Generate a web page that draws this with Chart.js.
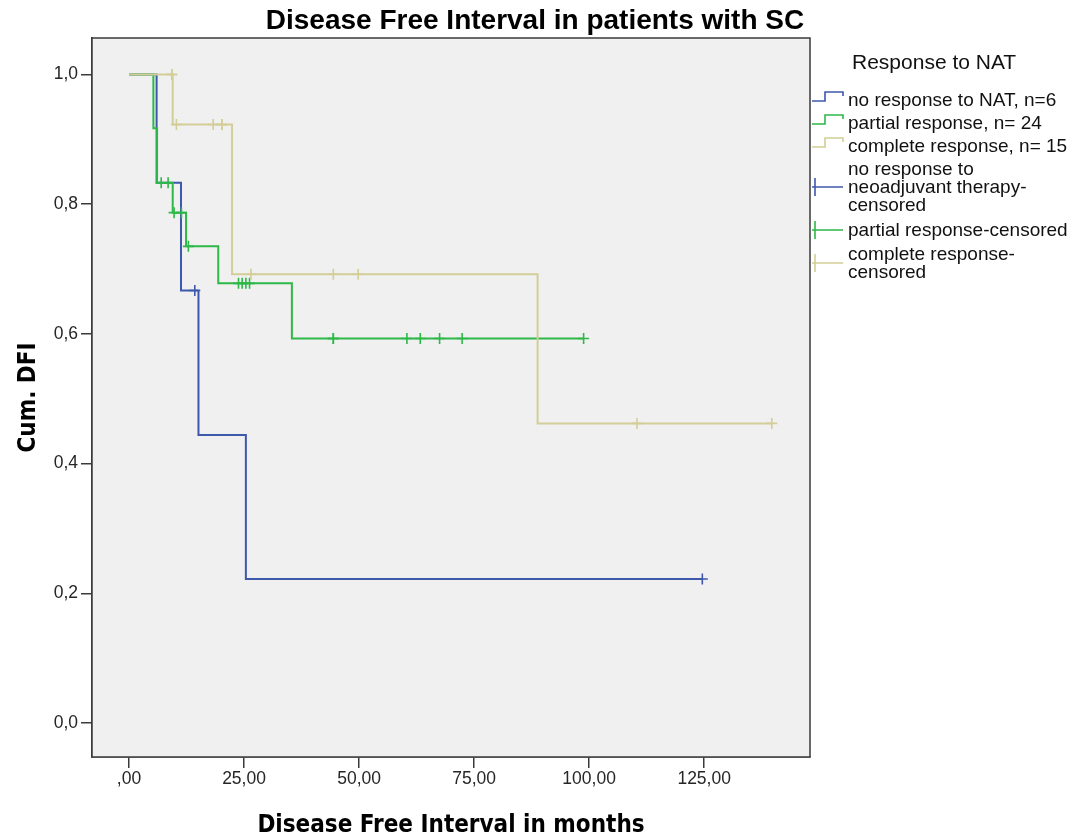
<!DOCTYPE html>
<html>
<head>
<meta charset="utf-8">
<script src="https://cdn.jsdelivr.net/npm/chart.js@4.4.1/dist/chart.umd.min.js"></script>
<style>
  html, body { margin: 0; padding: 0; background: #ffffff; }
  #wrap { width: 1077px; height: 838px; position: relative; }
  canvas { display: block; }
</style>
</head>
<body>
<div id="wrap"><canvas id="c" width="1077" height="838"></canvas></div>
<script>
// ---------------- data ----------------
// x tick values / labels (months) and y tick values / labels (Cum. DFI)
const xTickValues = [0, 25, 50, 75, 100, 125];
const xTickLabels = [',00', '25,00', '50,00', '75,00', '100,00', '125,00'];
const yTickValues = [0, 0.2, 0.4, 0.6, 0.8, 1.0];
const yTickLabels = ['0,0', '0,2', '0,4', '0,6', '0,8', '1,0'];

// no response to NAT, n=6
const noRespTimes = [0, 6.0, 11.3, 15.1, 25.4, 124.6];
const noRespSurv  = [1.0, 0.833, 0.667, 0.444, 0.222, 0.222];
const noRespCensTimes = [14.3, 124.6];
const noRespCensSurv  = [0.667, 0.222];

// partial response, n=24
const partialTimes = [0, 5.3, 6.1, 9.5, 12.4, 19.4, 35.4, 98.8];
const partialSurv  = [1.0, 0.917, 0.833, 0.787, 0.735, 0.678, 0.593, 0.593];
const partialCensTimes = [7.0, 8.5, 9.8, 11.4, 12.9, 23.8, 24.6, 25.4, 26.2, 44.4, 44.4, 60.4, 63.3, 67.5, 72.4, 98.8];
const partialCensSurv  = [0.833, 0.833, 0.787, 0.787, 0.735, 0.678, 0.678, 0.678, 0.678, 0.593, 0.593, 0.593, 0.593, 0.593, 0.593, 0.593];

// complete response, n=15
const completeTimes = [0, 9.5, 22.4, 88.8, 139.7];
const completeSurv  = [1.0, 0.923, 0.692, 0.462, 0.462];
const completeCensTimes = [9.3, 9.3, 10.3, 18.3, 20.2, 20.2, 26.5, 44.4, 49.8, 110.4, 139.7];
const completeCensSurv  = [1.0, 1.0, 0.923, 0.923, 0.923, 0.923, 0.692, 0.692, 0.692, 0.462, 0.462];

// legend texts
const legendTitle = 'Response to NAT';
const legendItems = [
  { lines: ['no response to NAT, n=6'], kind: 'step', color: 'blue' },
  { lines: ['partial response, n= 24'], kind: 'step', color: 'green' },
  { lines: ['complete response, n= 15'], kind: 'step', color: 'beige' },
  { lines: ['no response to', 'neoadjuvant therapy-', 'censored'], kind: 'cross', color: 'blue' },
  { lines: ['partial response-censored'], kind: 'cross', color: 'green' },
  { lines: ['complete response-', 'censored'], kind: 'cross', color: 'beige' }
];
const chartTitle = 'Disease Free Interval in patients with SC';
const xTitle = 'Disease Free Interval in months';
const yTitle = 'Cum. DFI';

// ---------------- styling ----------------
const COLORS = { blue: '#3E58AC', green: '#2EB848', beige: '#D3CE97' };
const FRAME = '#3a3a3a';
const FONT = "'Liberation Sans', Arial, sans-serif";
const BOLDFONT = "'DejaVu Sans Condensed', 'DejaVu Sans', sans-serif";

function pts(ts, ss) { return ts.map((t, i) => ({ x: t, y: ss[i] })); }

function curve(label, ts, ss, color) {
  return {
    label, data: pts(ts, ss), showLine: true, stepped: true,
    borderColor: color, borderWidth: 2, pointRadius: 0, fill: false
  };
}
function cens(label, ts, ss, color) {
  return {
    label, data: pts(ts, ss), showLine: false, pointStyle: 'cross',
    pointRadius: 5.5, pointBorderWidth: 1.6, pointBorderColor: color,
    borderColor: color, backgroundColor: color
  };
}

// first dataset is drawn last (on top)
const datasets = [
  cens('complete response-censored', completeCensTimes, completeCensSurv, COLORS.beige),
  cens('partial response-censored', partialCensTimes, partialCensSurv, COLORS.green),
  cens('no response-censored', noRespCensTimes, noRespCensSurv, COLORS.blue),
  curve('complete response, n= 15', completeTimes, completeSurv, COLORS.beige),
  curve('partial response, n= 24', partialTimes, partialSurv, COLORS.green),
  curve('no response to NAT, n=6', noRespTimes, noRespSurv, COLORS.blue)
];

const decorPlugin = {
  id: 'decor',
  beforeDatasetsDraw(chart) {
    const { ctx, chartArea: a } = chart;
    ctx.save();
    ctx.fillStyle = '#F0F0F0';
    ctx.fillRect(a.left, a.top, a.right - a.left, a.bottom - a.top);
    ctx.restore();
  },
  afterDraw(chart) {
    const { ctx, chartArea: a } = chart;
    ctx.save();
    // frame
    ctx.strokeStyle = FRAME;
    ctx.lineWidth = 1.5;
    ctx.strokeRect(a.left, a.top, a.right - a.left, a.bottom - a.top);

    // main title
    ctx.fillStyle = '#000';
    ctx.textAlign = 'center';
    ctx.textBaseline = 'alphabetic';
    ctx.font = "bold 28px " + FONT;
    ctx.fillText(chartTitle, 535, 29);

    // x title
    ctx.font = "bold 24px " + BOLDFONT;
    ctx.fillText(xTitle, (a.left + a.right) / 2, 832);

    // y title
    ctx.save();
    ctx.translate(35, (a.top + a.bottom) / 2);
    ctx.rotate(-Math.PI / 2);
    ctx.fillText(yTitle, 0, 0);
    ctx.restore();

    // legend
    ctx.textAlign = 'left';
    ctx.font = "21px " + FONT;
    ctx.fillStyle = '#111';
    ctx.fillText(legendTitle, 852, 69);

    ctx.font = "19px " + FONT;
    const baselines = [[106], [129], [152], [175, 193, 211], [236], [260, 278]];
    legendItems.forEach((it, i) => {
      const bl = baselines[i];
      it.lines.forEach((ln, j) => ctx.fillText(ln, 848, bl[j]));
      const col = COLORS[it.color];
      ctx.strokeStyle = col;
      ctx.lineWidth = 1.6;
      if (it.kind === 'step') {
        const cy = bl[0] - 6;
        ctx.beginPath();
        ctx.moveTo(812, cy + 1);
        ctx.lineTo(825, cy + 1);
        ctx.lineTo(825, cy - 8);
        ctx.lineTo(843, cy - 8);
        ctx.lineTo(843, cy - 4);
        ctx.stroke();
      } else {
        const mid = bl[Math.floor((bl.length - 1) / 2)] - 6 + (bl.length === 2 ? 9 : 0);
        ctx.beginPath();
        ctx.moveTo(812, mid);
        ctx.lineTo(843, mid);
        ctx.moveTo(815, mid - 9);
        ctx.lineTo(815, mid + 9);
        ctx.stroke();
      }
    });
    ctx.restore();
  }
};

new Chart(document.getElementById('c'), {
  type: 'scatter',
  data: { datasets },
  options: {
    responsive: false,
    animation: false,
    events: [],
    layout: { padding: { left: 0, top: 38, right: 1077 - 810, bottom: 0 } },
    scales: {
      x: {
        type: 'linear', min: -8.04, max: 148.0,
        afterFit(s) { s.height = 838 - 757; },
        afterBuildTicks(s) { s.ticks = xTickValues.map(v => ({ value: v })); },
        ticks: {
          callback: (v) => xTickLabels[xTickValues.indexOf(v)],
          font: { family: FONT, size: 17.5 }, color: '#262626', padding: 1, maxRotation: 0
        },
        grid: { display: true, drawOnChartArea: false, drawTicks: true, tickLength: 11, color: FRAME, lineWidth: 1.5 },
        border: { display: true, color: FRAME, width: 1.5 }
      },
      y: {
        type: 'linear', min: -0.0524, max: 1.0563,
        afterFit(s) { s.width = 92; },
        afterBuildTicks(s) { s.ticks = yTickValues.map(v => ({ value: v })); },
        ticks: {
          callback: (v) => yTickLabels[yTickValues.indexOf(v)],
          font: { family: FONT, size: 17.5 }, color: '#262626', padding: 3
        },
        grid: { display: true, drawOnChartArea: false, drawTicks: true, tickLength: 11, color: FRAME, lineWidth: 1.5 },
        border: { display: true, color: FRAME, width: 1.5 }
      }
    },
    plugins: { legend: { display: false }, tooltip: { enabled: false }, title: { display: false } }
  },
  plugins: [decorPlugin]
});
</script>
</body>
</html>
